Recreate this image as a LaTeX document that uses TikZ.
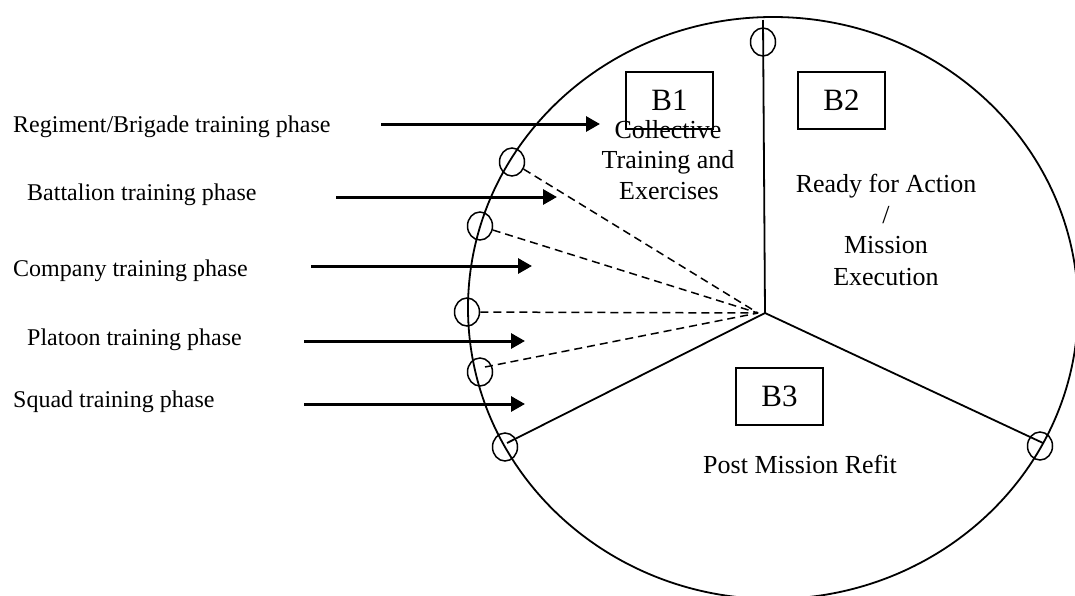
\documentclass[tikz,border=0pt]{standalone}
\usepackage{fontspec}
\setmainfont{Liberation Serif}
\usetikzlibrary{shapes.geometric,arrows.meta}
\begin{document}
\begin{tikzpicture}[x=1pt,y=-1pt,
  lab/.style={anchor=base west,font=\fontsize{24}{28}\selectfont,inner sep=0pt},
  inner/.style={anchor=base,font=\fontsize{26}{31}\selectfont,inner sep=0pt},
  bbox/.style={draw,line width=1.5pt,minimum width=87pt,minimum height=57pt,font=\fontsize{31}{36}\selectfont,inner sep=0pt},
  ell/.style={draw,ellipse,line width=1.5pt,minimum width=25pt,minimum height=28pt,inner sep=0pt},
  arr/.style={line width=3pt,-{Triangle[length=14pt,width=15pt]}},
  dsh/.style={line width=1.5pt,dash pattern=on 8pt off 5pt},
  sld/.style={line width=1.8pt}]
\useasboundingbox (0,0) rectangle (1075,595);
\draw[line width=1.8pt] (773,308) ellipse [x radius=305pt, y radius=291pt];
% hub and line ends
\coordinate (hub) at (765,313);
\coordinate (hubd) at (758,313);
\coordinate (top) at (763,20);
\coordinate (lle) at (507,443);
\coordinate (lre) at (1043,443);
\coordinate (e4s) at (485,367);
% small ellipses
\node[ell] (et) at (763,42) {};
\node[ell] (e1) at (512,162) {};
\node[ell] (e2) at (480,226) {};
\node[ell] (e3) at (467,312) {};
\node[ell] (e4) at (480,372) {};
\node[ell] (e5) at (505,447) {};
\node[ell] (er) at (1040,446) {};
% solid spokes
\draw[sld] (hub) -- (top);
\draw[sld] (hub) -- (lle);
\draw[sld] (hub) -- (lre);
% dashed spokes
\draw[dsh] (e1) -- (hubd);
\draw[dsh] (e2) -- (hubd);
\draw[dsh] (e3) -- (hubd);
\draw[dsh] (e4s) -- (hubd);
% boxes
\node[bbox] (b1) at (669.5,100.5) {B1};
\node[bbox] (b2) at (841.5,100.5) {B2};
\node[bbox] (b3) at (779.5,396.5) {B3};
% inner texts
\node[inner] (c1) at (668,138) {Collective};
\node[inner] (c2) at (668,168) {Training and};
\node[inner] (c3) at (669,199) {Exercises};
\node[inner] (r1) at (886,192) {Ready for Action};
\node[inner] (r2) at (886,223) {/};
\node[inner] (r3) at (886,253) {Mission};
\node[inner] (r4) at (886,285) {Execution};
\node[inner] (p1) at (800,473) {Post Mission Refit};
% left labels
\node[lab] (t1) at (13,132) {Regiment/Brigade training phase};
\node[lab] (t2) at (27,200) {Battalion training phase};
\node[lab] (t3) at (13,276) {Company training phase};
\node[lab] (t4) at (27,345) {Platoon training phase};
\node[lab] (t5) at (13,407) {Squad training phase};
% arrows
\coordinate (a1s) at (381,124); \coordinate (a1e) at (600,124);
\coordinate (a2s) at (336,197); \coordinate (a2e) at (557,197);
\coordinate (a3s) at (311,266); \coordinate (a3e) at (532,266);
\coordinate (a4s) at (304,341); \coordinate (a4e) at (525,341);
\coordinate (a5s) at (304,404); \coordinate (a5e) at (525,404);
\draw[arr] (a1s) -- (a1e);
\draw[arr] (a2s) -- (a2e);
\draw[arr] (a3s) -- (a3e);
\draw[arr] (a4s) -- (a4e);
\draw[arr] (a5s) -- (a5e);
\end{tikzpicture}
\end{document}
